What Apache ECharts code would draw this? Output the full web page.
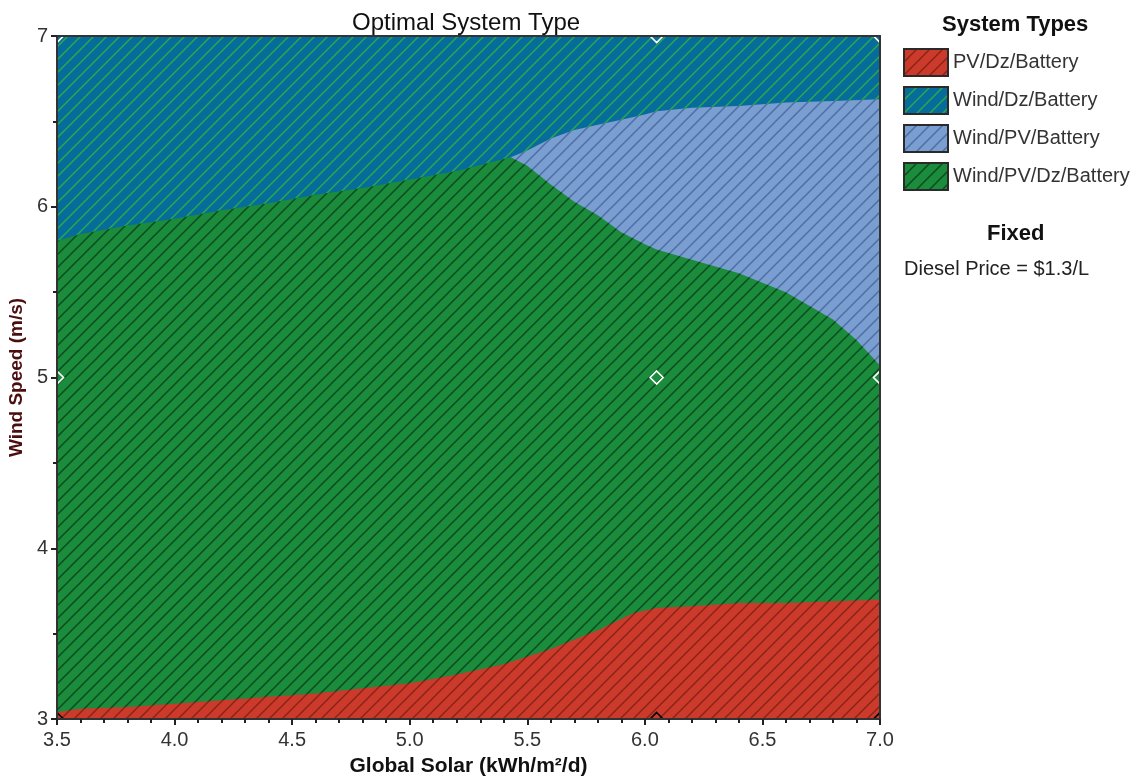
<!DOCTYPE html>
<html><head><meta charset="utf-8">
<script src="https://cdn.jsdelivr.net/npm/echarts@6/dist/echarts.min.js"></script>
<style>html,body{margin:0;padding:0;background:#fff}#c{width:1140px;height:776px}</style>
</head><body><div id="c"></div>
<script>
// ---- data ----
const seriesNames = ['PV/Dz/Battery', 'Wind/Dz/Battery', 'Wind/PV/Battery', 'Wind/PV/Dz/Battery'];

// upper boundary of each region (wind speed, m/s) against global solar (kWh/m²/d)
const windDzBatX   = [3.5, 7.0];
const windDzBatTop = [7.0, 7.0];

const windPvBatX   = [5.43, 5.5, 5.6, 5.7, 5.8, 5.9, 6.0, 6.05, 6.2, 6.4, 6.6, 6.8, 7.0];
const windPvBatTop = [6.29, 6.33, 6.40, 6.45, 6.48, 6.51, 6.54, 6.56, 6.58, 6.59, 6.61, 6.62, 6.63];

const windPvDzBatX   = [3.5, 3.6, 3.8, 4.0, 4.2, 4.4, 4.6, 4.8, 5.0, 5.2, 5.43, 5.5, 5.6, 5.7, 5.8, 5.9, 6.0, 6.05, 6.2, 6.4, 6.6, 6.8, 6.9, 7.0];
const windPvDzBatTop = [5.80, 5.84, 5.89, 5.93, 5.98, 6.02, 6.07, 6.11, 6.16, 6.21, 6.29, 6.24, 6.13, 6.03, 5.95, 5.85, 5.78, 5.75, 5.69, 5.61, 5.50, 5.34, 5.22, 5.07];

const pvDzBatX   = [3.5, 3.6, 3.8, 4.0, 4.2, 4.4, 4.6, 4.8, 5.0, 5.2, 5.4, 5.6, 5.8, 5.95, 6.05, 6.2, 6.4, 6.6, 6.8, 7.0];
const pvDzBatTop = [3.04, 3.06, 3.07, 3.09, 3.11, 3.13, 3.15, 3.18, 3.21, 3.26, 3.32, 3.41, 3.52, 3.62, 3.65, 3.66, 3.68, 3.68, 3.69, 3.70];

// sensitivity cases (markers)
const caseSolar = [3.5, 6.05, 7.0];
const caseWind  = [3, 5, 7];
const caseWindWhite = [0, 1, 1];   // 1 = white marker, 0 = black marker

// axis ticks
const solarTicks = [3.5, 4.0, 4.5, 5.0, 5.5, 6.0, 6.5, 7.0];
const windTicks  = [3, 4, 5, 6, 7];

const fixedText = 'Diesel Price = $1.3/L';

// ---- styles ----
function hatch(base, line) {
  const S = 13;
  const c = document.createElement('canvas');
  c.width = S; c.height = S;
  const g = c.getContext('2d');
  g.fillStyle = base; g.fillRect(0, 0, S, S);
  g.strokeStyle = line; g.lineWidth = 1.5;
  g.beginPath();
  for (const k of [0, S, 2 * S]) { g.moveTo(k - S - 2, S + 2); g.lineTo(k + 2, -2); }
  g.stroke();
  return { image: c, repeat: 'repeat' };
}
const patterns = {
  'PV/Dz/Battery':      hatch('#cb3a2b', '#8a2418'),
  'Wind/Dz/Battery':    hatch('#056c9c', '#2aa84a'),
  'Wind/PV/Battery':    hatch('#7a9ecf', '#4d6ea8'),
  'Wind/PV/Dz/Battery': hatch('#1a8c3b', '#0c4a20')
};
const baseColors = {
  'PV/Dz/Battery': '#cb3a2b', 'Wind/Dz/Battery': '#056c9c',
  'Wind/PV/Battery': '#7a9ecf', 'Wind/PV/Dz/Battery': '#1a8c3b'
};
const FONT = '"Liberation Sans", Arial, sans-serif';
const zip = (xs, ys) => xs.map((x, i) => [x, ys[i]]);

function areaSeries(name, xs, ys) {
  return {
    name, type: 'line', data: zip(xs, ys), symbol: 'none', silent: true,
    lineStyle: { width: 0 }, itemStyle: { color: baseColors[name] },
    areaStyle: { color: patterns[name], opacity: 1, origin: 'start' },
    z: 2, animation: false
  };
}

const markers = [];
caseWind.forEach((w, j) => caseSolar.forEach(s => markers.push([s, w, caseWindWhite[j]])));

const frameLine = { show: true, onZero: false, lineStyle: { color: '#333333', width: 2 } };

const chart = echarts.init(document.getElementById('c'), null, { renderer: 'canvas' });
chart.setOption({
  animation: false,
  backgroundColor: '#fff',
  textStyle: { fontFamily: FONT },
  title: [
    { text: 'Optimal System Type', left: 347, top: 6, textStyle: { fontSize: 24, fontWeight: 'normal', color: '#111', fontFamily: FONT } },
    { text: 'System Types', left: 937, top: 9, textStyle: { fontSize: 22, fontWeight: 'bold', color: '#111', fontFamily: FONT } },
    { text: 'Fixed', left: 982, top: 218, textStyle: { fontSize: 22, fontWeight: 'bold', color: '#111', fontFamily: FONT } },
    { text: fixedText, left: 899, top: 254, textStyle: { fontSize: 20, fontWeight: 'normal', color: '#222', fontFamily: FONT } }
  ],
  legend: {
    orient: 'vertical', left: 903, top: 48, padding: 0,
    itemWidth: 44, itemHeight: 27, itemGap: 9, itemTextGap: 12,
    icon: 'rect', selectedMode: false,
    textStyle: { fontSize: 20, color: '#333', fontFamily: FONT },
    data: seriesNames.map(n => ({ name: n, icon: 'rect', itemStyle: { color: patterns[n], borderColor: '#2a2a2a', borderWidth: 2 } }))
  },
  grid: { left: 57, right: 260, top: 36, bottom: 57, containLabel: false, outerBoundsMode: 'none' },
  xAxis: [
    {
      type: 'value', position: 'bottom', min: solarTicks[0], max: solarTicks[solarTicks.length - 1], interval: 0.5,
      name: 'Global Solar (kWh/m²/d)', nameLocation: 'middle', nameGap: 37,
      nameTextStyle: { fontSize: 21, fontWeight: 'bold', color: '#111', fontFamily: FONT },
      axisLine: frameLine,
      axisTick: { show: true, length: 6, lineStyle: { color: '#222', width: 2 } },
      minorTick: { show: true, splitNumber: 5, length: 4, lineStyle: { color: '#222', width: 2 } },
      axisLabel: { fontSize: 20, color: '#333', margin: 11, fontFamily: FONT, formatter: v => v.toFixed(1) },
      splitLine: { show: false }, minorSplitLine: { show: false }, z: 10
    },
    {
      type: 'value', position: 'top', min: solarTicks[0], max: solarTicks[solarTicks.length - 1],
      axisLine: frameLine, axisTick: { show: false }, axisLabel: { show: false }, splitLine: { show: false }, z: 10
    }
  ],
  yAxis: [
    {
      type: 'value', position: 'left', min: windTicks[0], max: windTicks[windTicks.length - 1], interval: 1,
      name: 'Wind Speed (m/s)', nameLocation: 'middle', nameGap: 27,
      nameTextStyle: { fontSize: 19, fontWeight: 'bold', color: '#4a0e0e', fontFamily: FONT },
      axisLine: frameLine,
      axisTick: { show: true, length: 6, lineStyle: { color: '#222', width: 2 } },
      minorTick: { show: true, splitNumber: 2, length: 4, lineStyle: { color: '#222', width: 2 } },
      axisLabel: { fontSize: 20, color: '#333', margin: 9, fontFamily: FONT },
      splitLine: { show: false }, minorSplitLine: { show: false }, z: 10
    },
    {
      type: 'value', position: 'right', min: windTicks[0], max: windTicks[windTicks.length - 1],
      axisLine: frameLine, axisTick: { show: false }, axisLabel: { show: false }, splitLine: { show: false }, z: 10
    }
  ],
  series: [
    areaSeries('Wind/Dz/Battery', windDzBatX, windDzBatTop),
    areaSeries('Wind/PV/Battery', windPvBatX, windPvBatTop),
    areaSeries('Wind/PV/Dz/Battery', windPvDzBatX, windPvDzBatTop),
    areaSeries('PV/Dz/Battery', pvDzBatX, pvDzBatTop),
    {
      type: 'custom', coordinateSystem: 'cartesian2d', clip: true, silent: true, z: 5,
      data: markers,
      renderItem(params, api) {
        const p = api.coord([api.value(0), api.value(1)]);
        const r = 6.5;
        return {
          type: 'polygon',
          shape: { points: [[p[0], p[1] - r], [p[0] + r, p[1]], [p[0], p[1] + r], [p[0] - r, p[1]]] },
          style: { fill: 'none', stroke: api.value(2) ? '#ffffff' : '#000000', lineWidth: 1.6 }
        };
      }
    }
  ]
});
</script>
</body></html>
